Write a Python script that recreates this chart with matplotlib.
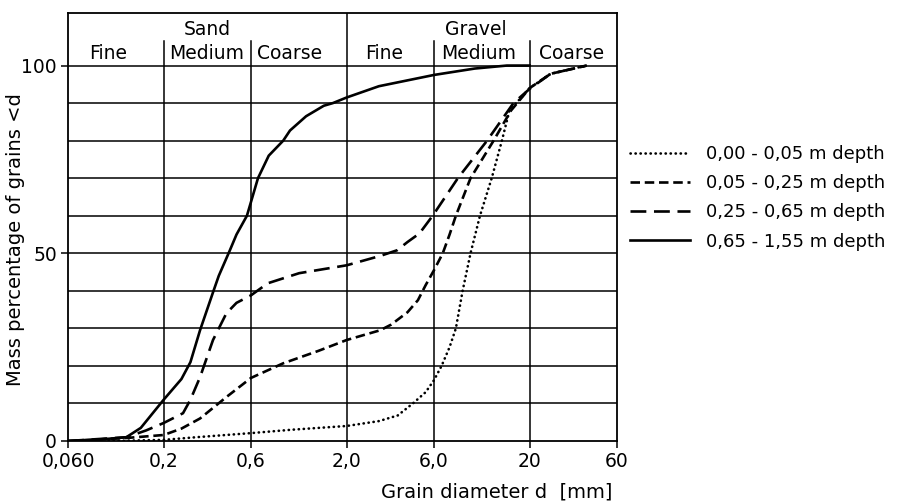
import numpy as np
import matplotlib
matplotlib.use("Agg")
import matplotlib.pyplot as plt

plt.rcParams["font.family"] = "DejaVu Sans"
plt.rcParams["font.size"] = 13

# grain size curves: diameter [mm], mass % < d
d_000_005 = [0.1, 0.2, 0.3, 0.6, 1.0, 2.0, 3.0, 3.8, 4.6, 5.4, 6.0, 6.6, 7.3, 7.9, 8.6,
             9.5, 10.7, 12.4, 14.1, 15.5, 20, 26, 41]
p_000_005 = [0, 0.3, 1.0, 2.1, 3.0, 4.0, 5.3, 6.8, 10, 13, 16.2, 20, 25, 30, 40,
             50, 60, 70, 80, 88, 94, 97.8, 100]

d_005_025 = [0.06, 0.125, 0.2, 0.25, 0.316, 0.44, 0.6, 0.9, 1.4, 2.0, 3.05, 3.5, 4.3,
             4.9, 5.4, 6.0, 6.7, 7.3, 7.9, 9.5, 12.7, 15.8, 20, 26, 41]
p_005_025 = [0, 0.8, 1.6, 3.3, 6.0, 11.7, 16.8, 20.7, 24, 26.9, 29.5, 31, 34.3,
             37.5, 41.5, 45.5, 50, 55, 60, 70, 80, 88, 94, 97.8, 100]

d_025_065 = [0.06, 0.125, 0.16, 0.2, 0.255, 0.28, 0.316, 0.372, 0.44, 0.5, 0.6, 0.74,
             1.1, 2.0, 3.05, 3.77, 4.3, 5.0, 5.9, 8.1, 11.7, 16.3, 20, 26, 41]
p_025_065 = [0, 1.0, 2.8, 4.8, 7.4, 11, 17, 26.9, 34, 36.8, 38.8, 42,
             44.7, 46.8, 49.3, 50.8, 53, 55.3, 60, 70, 80, 90, 93.8, 97.8, 100]

d_065_155 = [0.06, 0.09, 0.125, 0.15, 0.2, 0.25, 0.28, 0.316, 0.372, 0.4, 0.46, 0.5,
             0.57, 0.655, 0.75, 0.9, 0.98, 1.2, 1.5, 1.68, 2.0, 3.0, 6.0, 10, 15, 20]
p_065_155 = [0, 0.4, 1.0, 3.5, 11, 16.5, 21, 29.5, 39.6, 44, 50.8, 55,
             60, 70, 76, 80, 82.7, 86.5, 89.3, 90, 91.5, 94.5, 97.5, 99.2, 100, 100]

labels = ["0,00 - 0,05 m depth", "0,05 - 0,25 m depth",
          "0,25 - 0,65 m depth", "0,65 - 1,55 m depth"]

xticks = [0.06, 0.2, 0.6, 2.0, 6.0, 20, 60]
xticklabels = ["0,060", "0,2", "0,6", "2,0", "6,0", "20", "60"]

main_groups = ["Sand", "Gravel"]
main_pos = [0.346, 10.2]
sub_groups = ["Fine", "Medium", "Coarse", "Fine", "Medium", "Coarse"]
sub_pos = [0.1, 0.345, 0.97, 3.2, 10.5, 34.0]

fig = plt.figure(figsize=(8.97, 5.03), dpi=100)
ax = fig.add_axes([68 / 897, 1 - 441 / 503, (617 - 68) / 897, (441 - 13) / 503])
ax.set_xscale("log")
ax.set_xlim(0.06, 60)
ax.set_ylim(0, 114)

# grid
for y in range(10, 101, 10):
    ax.axhline(y, color="black", lw=1.1, zorder=1)
ytop = 106.6
for x in [0.2, 0.6, 6.0, 20]:
    ax.plot([x, x], [0, ytop], color="black", lw=1.1, zorder=1)
ax.axvline(2.0, color="black", lw=1.1, zorder=1)

lw = 1.9
ax.plot(d_000_005, p_000_005, color="black", lw=lw, linestyle=(0, (0.1, 1.8)),
        dash_capstyle="round", label=labels[0])
ax.plot(d_005_025, p_005_025, color="black", lw=lw, linestyle=(0, (3.6, 1.8)),
        label=labels[1])
ax.plot(d_025_065, p_025_065, color="black", lw=lw, linestyle=(0, (6.0, 2.9)),
        label=labels[2])
ax.plot(d_065_155, p_065_155, color="black", lw=lw, linestyle="-", label=labels[3])

for t, x in zip(main_groups, main_pos):
    ax.text(x, 109.6, t, ha="center", va="center", fontsize=13.5)
for t, x in zip(sub_groups, sub_pos):
    ax.text(x, 103.3, t, ha="center", va="center", fontsize=13.5)

ax.set_xticks(xticks)
ax.set_xticklabels(xticklabels)
ax.xaxis.set_minor_locator(matplotlib.ticker.NullLocator())
ax.set_yticks([0, 50, 100])
ax.tick_params(direction="out", length=5, width=1.1, colors="black", labelsize=13.5, pad=3)
for s in ax.spines.values():
    s.set_linewidth(1.3)

ax.set_ylabel("Mass percentage of grains <d", fontsize=14)
ax.yaxis.set_label_coords(-0.078, 0.47)
fig.text(612 / 897, 1 - 492 / 503, "Grain diameter d  [mm]", ha="right", va="center",
         fontsize=14)

fig.legend(loc="upper left", bbox_to_anchor=(630 / 897, 1 - 145 / 503), frameon=False,
           fontsize=13, handlelength=3.3, handletextpad=0.9, labelspacing=0.62,
           borderaxespad=0, borderpad=0)

fig.savefig("out.png", dpi=100)
